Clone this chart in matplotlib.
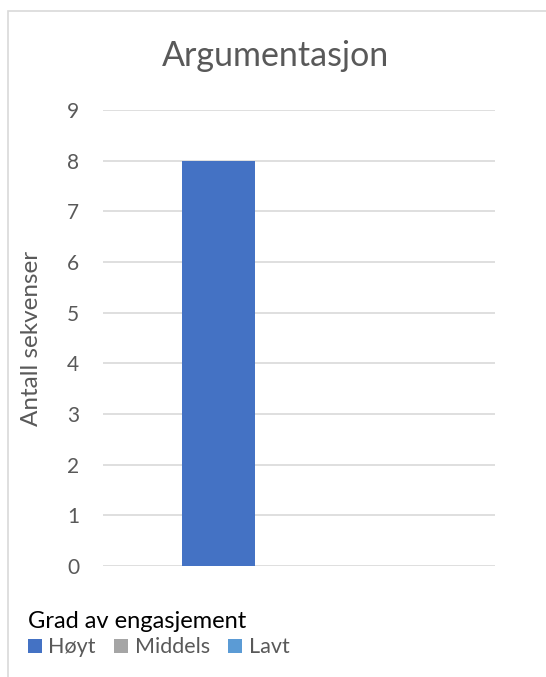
import matplotlib
matplotlib.use("Agg")
import matplotlib.pyplot as plt
from matplotlib.patches import Rectangle

# Data
categories = ["Argumentasjon"]
series_names = ["Høyt", "Middels", "Lavt"]
series_values = [[8], [0], [0]]
series_colors = ["#4472C4", "#A5A5A5", "#5B9BD5"]
y_ticks = list(range(0, 10))

plt.rcParams["font.family"] = ["Lato", "DejaVu Sans"]
text_grey = "#595959"

fig = plt.figure(figsize=(5.46, 6.77), dpi=100)

# Chart frame (light grey border)
fig.patches.append(Rectangle((8 / 546, -0.01), 1.0, 1 - 11 / 677 + 0.01,
                             transform=fig.transFigure, fill=False,
                             edgecolor="#D9D9D9", linewidth=1.2))

ax = fig.add_axes([103 / 546, 1 - 566 / 677, 392 / 546, 456 / 677])

bar_w = 0.186
offsets = [-bar_w, 0.0, bar_w]
bars = []
for name, vals, col, off in zip(series_names, series_values, series_colors, offsets):
    b = ax.bar([i + off for i in range(len(categories))], vals, width=bar_w,
               color=col, label=name, zorder=3)
    bars.append(b)

ax.set_xlim(-0.4805, 0.5195)
ax.set_ylim(0, 9)
ax.set_yticks(y_ticks)
ax.set_yticklabels([str(t) for t in y_ticks])
ax.set_xticks([])
ax.grid(axis="y", color="#D9D9D9", linewidth=1.2, zorder=0)
for s in ax.spines.values():
    s.set_visible(False)
ax.tick_params(axis="y", length=0, pad=17, labelsize=15, labelcolor=text_grey)

ax.set_ylabel("Antall sekvenser", fontsize=17.5, color=text_grey, labelpad=18)

fig.text(276 / 546, 1 - 66 / 677, "Argumentasjon", ha="center", va="baseline",
         fontsize=24.5, color=text_grey)

leg = fig.legend(handles=[b[0] for b in bars], labels=series_names,
                 loc="upper left", bbox_to_anchor=(28 / 546, 1 - 611 / 677),
                 ncol=3, frameon=False, title="Grad av engasjement",
                 alignment="left", fontsize=15.5, title_fontsize=17,
                 handlelength=0.65, handleheight=0.65, handletextpad=0.3,
                 columnspacing=0.85, labelspacing=0.25,
                 borderpad=0, borderaxespad=0)
for t in leg.get_texts():
    t.set_color(text_grey)
leg.get_title().set_color("black")

fig.savefig("out.png", dpi=100)
